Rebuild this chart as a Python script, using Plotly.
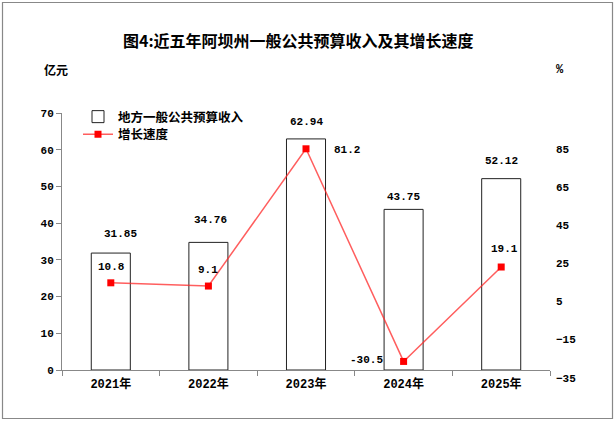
import plotly.graph_objects as go

years = ["2021年", "2022年", "2023年", "2024年", "2025年"]
revenue = [31.85, 34.76, 62.94, 43.75, 52.12]
growth = [10.8, 9.1, 81.2, -30.5, 19.1]
revenue_labels = ["31.85", "34.76", "62.94", "43.75", "52.12"]
growth_labels = ["10.8", "9.1", "81.2", "-30.5", "19.1"]
right_ticks = [-35, -15, 5, 25, 45, 65, 85]

# styling offsets (px) for value labels
rev_xshift = [10, 2, 0, 0, 0]
rev_yshift = [19, 22, 17, 12, 18]
gr_xshift = [1, 0, 41, -37, 3]
gr_yshift = [16, 16, -1, 1, 18]

W, H = 615, 421
ML, MR, MT, MB = 62, 65, 113, 51
PW, PH = W - ML - MR, H - MT - MB

NUM = "Liberation Mono, Noto Sans CJK SC, monospace"
CJK = "Noto Sans CJK SC, sans-serif"

def px_x(px):
    return (px - ML) / PW

def px_y(py):
    return (H - MB - py) / PH

fig = go.Figure()
fig.add_trace(go.Bar(
    x=years, y=revenue, name="地方一般公共预算收入",
    marker=dict(color="white", line=dict(color="#222", width=1)),
    width=0.4, yaxis="y", legend="legend",
))
fig.add_trace(go.Scatter(
    x=years, y=growth, name="增长速度", mode="lines+markers",
    line=dict(color="rgba(255,40,40,0.75)", width=1.5),
    marker=dict(symbol="square", size=7, color="#ff0000"),
    yaxis="y2", legend="legend2",
))

ann = []
for i in range(len(years)):
    ann.append(dict(x=years[i], y=revenue[i], xref="x", yref="y", text=revenue_labels[i],
                    showarrow=False, xshift=rev_xshift[i], yshift=rev_yshift[i],
                    font=dict(family=NUM, size=11, color="black", weight="bold")))
    ann.append(dict(x=years[i], y=growth[i], xref="x", yref="y2", text=growth_labels[i],
                    showarrow=False, xshift=gr_xshift[i], yshift=gr_yshift[i],
                    font=dict(family=NUM, size=11, color="black", weight="bold")))

ann.append(dict(x=px_x(56), y=px_y(70), xref="paper", yref="paper",
                xanchor="center", yanchor="middle",
                text="亿元", showarrow=False,
                font=dict(family=CJK, size=12, color="black", weight="bold")))
ann.append(dict(x=px_x(560), y=px_y(70), xref="paper", yref="paper",
                xanchor="center", yanchor="middle",
                text="%", showarrow=False,
                font=dict(family=NUM, size=12, color="black", weight="bold")))

shapes = [dict(type="rect", xref="paper", yref="paper",
               x0=px_x(2.5), x1=px_x(612.5), y0=px_y(418.5), y1=px_y(2.5),
               line=dict(color="#888", width=1.2), fillcolor="rgba(0,0,0,0)", layer="below")]

legfont = dict(family=CJK, size=12.5, color="black", weight="bold")

fig.update_layout(
    width=W, height=H,
    margin=dict(l=ML, r=MR, t=MT, b=MB),
    paper_bgcolor="white", plot_bgcolor="white",
    title=dict(text="图4:近五年阿坝州一般公共预算收入及其增长速度", x=0.485, xanchor="center",
               y=1 - 41 / H, yanchor="middle",
               font=dict(family=CJK, size=16, color="black", weight="bold")),
    showlegend=True,
    legend=dict(x=px_x(78), y=px_y(102), xanchor="left", yanchor="top",
                bgcolor="rgba(0,0,0,0)", font=legfont),
    legend2=dict(x=px_x(78), y=px_y(119.5), xanchor="left", yanchor="top",
                 bgcolor="rgba(0,0,0,0)", font=legfont),
    xaxis=dict(type="category", tickson="boundaries", ticks="outside", ticklen=5,
               tickcolor="#888", showline=True, linecolor="#888", linewidth=1,
               showgrid=False, ticklabelstandoff=3,
               tickfont=dict(family=NUM, size=12, color="black", weight="bold")),
    yaxis=dict(range=[0, 70], dtick=10, ticks="outside", ticklen=5, tickcolor="#888",
               showline=True, linecolor="#888", linewidth=1, showgrid=False, zeroline=False,
               tickfont=dict(family=NUM, size=11, color="black", weight="bold")),
    yaxis2=dict(range=[-35, 100], overlaying="y", side="right", tickvals=right_ticks,
                showline=False, showgrid=False, zeroline=False, ticks="",
                ticklabelposition="outside bottom", ticklabelstandoff=5,
                tickfont=dict(family=NUM, size=11, color="black", weight="bold")),
    annotations=ann, shapes=shapes,
    bargap=0.6,
)

fig.write_html("out.html", config={"displayModeBar": False},
               post_script="document.body.style.margin='0';document.body.style.padding='0';")
